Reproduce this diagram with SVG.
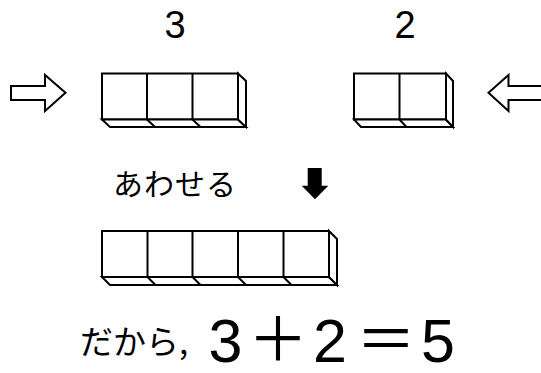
<svg xmlns="http://www.w3.org/2000/svg" width="541" height="373" viewBox="0 0 541 373">
<style>
.ln{fill:#fff;stroke:#000;stroke-width:2;stroke-linejoin:miter}
.dv{stroke:#000;stroke-width:2;fill:none}
.num{font-family:"Liberation Sans",Arial,sans-serif;fill:#000;text-anchor:middle}
.jp{font-family:"Noto Sans CJK JP","Noto Sans CJK SC",sans-serif;fill:#000}
</style>
<rect width="541" height="373" fill="#fff"/>
<g id="label3"><text class="num" x="175" y="38" font-size="38">3</text></g>
<g id="label2"><text class="num" x="405" y="38" font-size="38">2</text></g>
<g id="arrowRight"><polygon class="ln" points="11,86 45,86 45,75 65.5,92.7 45,111 45,100 11,100"/></g>
<g id="arrowLeft"><polygon class="ln" points="543,86 508.5,86 508.5,75 488.5,92.7 508.5,111 508.5,100 543,100"/></g>
<g id="blocks3">
<rect class="ln" x="102" y="73.5" width="136" height="46"/>
<path class="dv" d="M147,73.5V119.5M192.5,73.5V119.5"/>
<polygon class="ln" points="102,119.5 238,119.5 246,127 110,127"/>
<polygon class="ln" points="238,73.5 246,81 246,127 238,119.5"/>
<path class="dv" d="M147,119.5L155,127M192.5,119.5L200.5,127"/>
</g>
<g id="blocks2">
<rect class="ln" x="354" y="73.5" width="92" height="46"/>
<path class="dv" d="M399.5,73.5V119.5"/>
<polygon class="ln" points="354,119.5 446,119.5 453,127 361,127"/>
<polygon class="ln" points="446,73.5 453,81 453,127 446,119.5"/>
<path class="dv" d="M399.5,119.5L406.5,127"/>
</g>
<g id="awaseru"><text class="jp" x="113" y="195" font-size="30" letter-spacing="1">あわせる</text></g>
<g id="arrowDown"><polygon fill="#000" points="307.7,168 321.7,168 321.7,185.7 328.3,185.7 315,199.3 301.7,185.7 307.7,185.7"/></g>
<g id="blocks5">
<rect class="ln" x="102" y="231" width="227" height="46"/>
<path class="dv" d="M147.5,231V277M192.5,231V277M238,231V277M283.5,231V277"/>
<polygon class="ln" points="102,277 329,277 337,285 110,285"/>
<polygon class="ln" points="329,231 337,239 337,285 329,277"/>
<path class="dv" d="M147.5,277L155.5,285M192.5,277L200.5,285M238,277L246,285M283.5,277L291.5,285"/>
</g>
<g id="conclusion">
<text class="jp" x="80" y="354" font-size="33">だから,</text>
<text class="num" x="225.5" y="361.5" font-size="61">3</text>
<text class="jp" x="278" y="361" font-size="60" text-anchor="middle">＋</text>
<text class="num" x="330" y="361.5" font-size="61">2</text>
<text class="jp" x="386" y="361" font-size="60" text-anchor="middle">＝</text>
<text class="num" x="438" y="361.5" font-size="61">5</text>
</g>
</svg>
